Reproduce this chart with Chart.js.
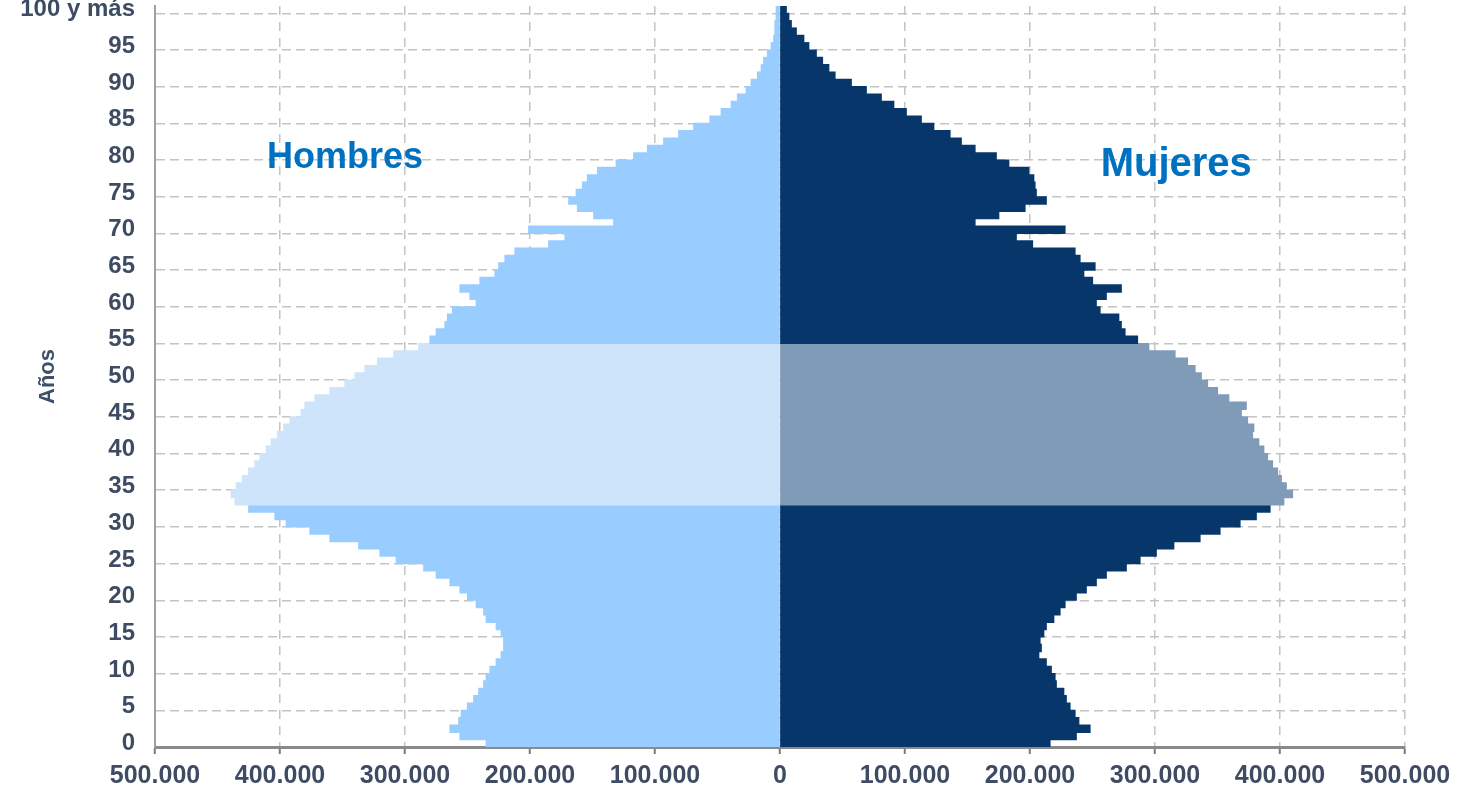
<!DOCTYPE html>
<html lang="es">
<head>
<meta charset="utf-8">
<title>Pirámide de población</title>
<script src="https://cdn.jsdelivr.net/npm/chart.js@4.4.1/dist/chart.umd.min.js"></script>
<style>
  html, body { margin: 0; padding: 0; background: #fff; }
  #frame { position: relative; width: 1464px; height: 797px; overflow: hidden; }
  #wrap { position: absolute; left: 0; top: -40px; width: 1464px; height: 837px; }
</style>
</head>
<body>
<div id="frame"><div id="wrap"><canvas id="pyramid"></canvas></div></div>
<script>
// Edades 0..100 ("100 y más" en la última)
const ages = [];
for (let a = 0; a <= 100; a++) ages.push(a === 100 ? '100 y más' : String(a));

// Población por edad, de 0 a 100 años
const hombres = [
  235000, 256000, 264000, 257000, 255000, 250000, 245000, 241000, 237000, 235000,
  232000, 227000, 223000, 221000, 221000, 223000, 227000, 235000, 237000, 243000,
  250000, 256000, 264000, 275000, 285000, 307000, 320000, 337000, 360000, 376000,
  395000, 404000, 425000, 436000, 439000, 435000, 430000, 425000, 420000, 416000,
  411000, 407000, 402000, 397000, 392000, 383000, 380000, 372000, 360000, 348000,
  340000, 332000, 322000, 309000, 289000, 280000, 275000, 268000, 266000, 262000,
  243000, 248000, 256000, 240000, 228000, 225000, 220000, 212000, 185000, 172000,
  201000, 133000, 149000, 162000, 169000, 163000, 158000, 154000, 146000, 131000,
  117000, 106000, 93000, 81000, 69000, 56000, 47000, 39000, 34000, 27000,
  23000, 18000, 15000, 13000, 10000, 7000, 5000, 4000, 4000, 3000,
  3000
];
const mujeres = [
  216000, 237000, 248000, 239000, 236000, 232000, 229000, 227000, 221000, 220000,
  217000, 213000, 207000, 209000, 208000, 211000, 213000, 219000, 224000, 228000,
  237000, 245000, 253000, 261000, 277000, 288000, 301000, 315000, 336000, 352000,
  368000, 381000, 392000, 403000, 410000, 405000, 401000, 398000, 394000, 390000,
  387000, 383000, 378000, 379000, 374000, 369000, 373000, 359000, 350000, 342000,
  337000, 332000, 326000, 316000, 295000, 286000, 276000, 273000, 271000, 256000,
  253000, 261000, 273000, 250000, 243000, 252000, 240000, 236000, 202000, 189000,
  228000, 156000, 175000, 196000, 213000, 205000, 204000, 203000, 199000, 183000,
  173000, 156000, 145000, 136000, 123000, 113000, 101000, 91000, 81000, 69000,
  57000, 44000, 39000, 34000, 29000, 23000, 19000, 13000, 9000, 7000,
  5000
];

// Tramo resaltado (generación del baby boom)
const bandaDesde = 33;
const bandaHasta = 54;

const xTicks = [-500000, -400000, -300000, -200000, -100000, 0, 100000, 200000, 300000, 400000, 500000];

const FONT = "'Liberation Sans', Arial, sans-serif";
const AXIS_TXT = '#3e4c63';

function enBanda(i) { return i >= bandaDesde && i <= bandaHasta; }

function miles(v) {
  return String(Math.abs(v)).replace(/\B(?=(\d{3})+(?!\d))/g, '.');
}

const sexLabels = {
  id: 'sexLabels',
  afterDatasetsDraw(chart) {
    const { ctx, scales } = chart;
    const x = scales.x, y = scales.y;
    ctx.save();
    ctx.fillStyle = '#0070c0';
    ctx.textAlign = 'center';
    ctx.textBaseline = 'middle';
    ctx.font = `bold 36px ${FONT}`;
    ctx.fillText('Hombres', x.getPixelForValue(-348000), y.getPixelForValue(80) + 2);
    ctx.font = `bold 40px ${FONT}`;
    ctx.fillText('Mujeres', x.getPixelForValue(317000), y.getPixelForValue(79) + 1);
    ctx.restore();
  }
};

new Chart(document.getElementById('pyramid'), {
  type: 'bar',
  data: {
    labels: ages,
    datasets: [
      {
        label: 'Hombres',
        data: hombres.map(v => -v),
        backgroundColor: ages.map((_, i) => enBanda(i) ? '#cde4fb' : '#99ccff'),
        borderWidth: 0,
        inflateAmount: 0.6,
        barPercentage: 1,
        categoryPercentage: 1
      },
      {
        label: 'Mujeres',
        data: mujeres,
        backgroundColor: ages.map((_, i) => enBanda(i) ? '#7f9bb8' : '#07376a'),
        borderWidth: 0,
        inflateAmount: 0.6,
        barPercentage: 1,
        categoryPercentage: 1
      }
    ]
  },
  options: {
    indexAxis: 'y',
    responsive: true,
    maintainAspectRatio: false,
    animation: false,
    layout: { padding: { top: 46, right: 59, bottom: 0, left: 0 } },
    plugins: { legend: { display: false }, tooltip: { enabled: false } },
    scales: {
      x: {
        stacked: true,
        min: -500000,
        max: 500000,
        afterBuildTicks: s => { s.ticks = xTicks.map(v => ({ value: v })); },
        afterFit: s => { s.height = 50; },
        ticks: {
          callback: v => miles(v),
          color: AXIS_TXT,
          font: { family: FONT, size: 25, weight: 'bold' },
          padding: 7,
          maxRotation: 0
        },
        grid: {
          color: ctx => ctx.tick && ctx.tick.value === 0 ? 'rgba(0,0,0,0)' : '#c4c4c4',
          lineWidth: 1.5,
          tickLength: 7,
          tickColor: '#7a7a7a',
          tickWidth: 2
        },
        border: { display: true, color: '#8a8a8a', width: 3, dash: [9, 7] }
      },
      y: {
        stacked: true,
        reverse: true,
        afterFit: s => { s.width = 155; },
        ticks: {
          autoSkip: false,
          callback: (v, i) => (i % 5 === 0 ? ages[i] : ''),
          color: AXIS_TXT,
          font: { family: FONT, size: 24, weight: 'bold' },
          padding: 20
        },
        grid: {
          color: ctx => (ctx.index % 5 === 0 && ctx.index <= 100) ? '#c4c4c4' : 'rgba(0,0,0,0)',
          lineWidth: 1.5,
          drawTicks: false
        },
        border: { display: true, color: '#a0a0a0', width: 2, dash: [9, 5] },
        title: {
          display: true,
          text: 'Años',
          color: '#3d5068',
          font: { family: FONT, size: 22, weight: 'bold' },
          padding: { top: 35, bottom: 0 }
        }
      }
    }
  },
  plugins: [sexLabels]
});
</script>
</body>
</html>
